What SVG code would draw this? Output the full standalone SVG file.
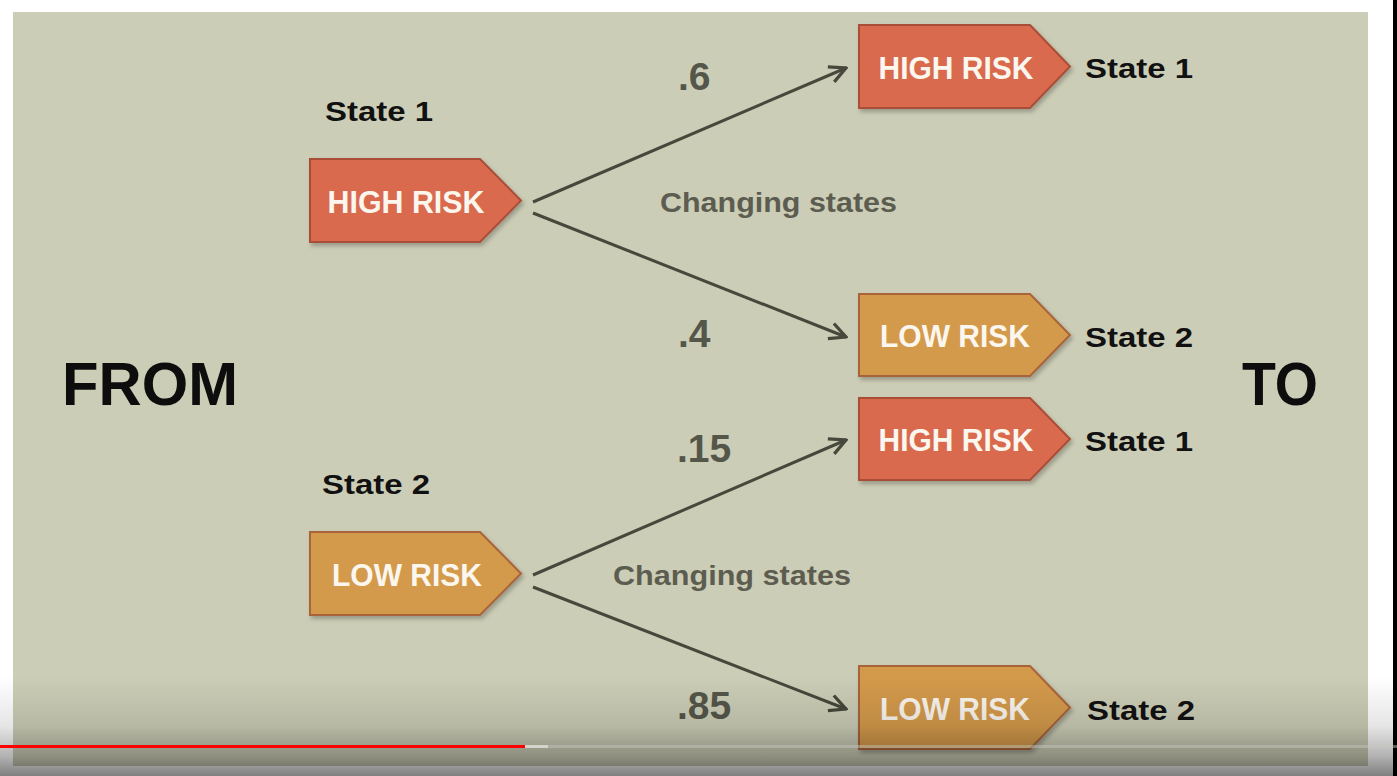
<svg xmlns="http://www.w3.org/2000/svg" width="1397" height="776" viewBox="0 0 1397 776">
<defs>
<style>
.high{fill:#d96a4e;stroke:#a94e37;stroke-width:2}
.low{fill:#d49a4b;stroke:#a9643a;stroke-width:2}
.box-t{font-family:"Liberation Sans",Arial,sans-serif;font-weight:bold;font-size:31px;fill:#fbf6ee;text-anchor:middle}
.state{font-family:"Liberation Sans",Arial,sans-serif;font-weight:bold;font-size:27px;fill:#111}
.prob{font-family:"Liberation Sans",Arial,sans-serif;font-weight:bold;font-size:39px;fill:#55564a}
.chg{font-family:"Liberation Sans",Arial,sans-serif;font-weight:bold;font-size:28px;fill:#5c5d50}
.big{font-family:"Liberation Sans",Arial,sans-serif;font-weight:bold;font-size:62px;fill:#0d0d0d}
.conn{stroke:#46483b;stroke-width:3;fill:none;marker-end:url(#arr)}
</style>
<marker id="arr" viewBox="0 0 12 12" refX="11" refY="6" markerWidth="6.5" markerHeight="6.5" orient="auto" markerUnits="strokeWidth">
<path d="M1,1 L11,6 L1,11" fill="none" stroke="#46483b" stroke-width="2"/>
</marker>
<filter id="sh" x="-10%" y="-10%" width="130%" height="140%">
<feDropShadow dx="2" dy="3" stdDeviation="2" flood-color="#000" flood-opacity="0.25"/>
</filter>
<linearGradient id="fade" x1="0" y1="0" x2="0" y2="1">
<stop offset="0" stop-color="#000" stop-opacity="0"/>
<stop offset="0.5" stop-color="#000" stop-opacity="0.1"/>
<stop offset="0.8" stop-color="#000" stop-opacity="0.3"/>
<stop offset="1" stop-color="#000" stop-opacity="0.5"/>
</linearGradient>
</defs>
<rect x="0" y="0" width="1397" height="776" fill="#ffffff"/>
<rect x="13" y="12" width="1355" height="754" fill="#cccdb6"/>
<rect x="1393" y="0" width="4" height="776" fill="#000"/>

<g id="connectors">
<line class="conn" x1="533" y1="202" x2="846" y2="68"/>
<line class="conn" x1="533" y1="213" x2="846" y2="337"/>
<line class="conn" x1="533" y1="575" x2="846" y2="440"/>
<line class="conn" x1="533" y1="587" x2="846" y2="709"/>
</g>

<g id="labels">
<text class="big" x="62" y="405" textLength="176" lengthAdjust="spacingAndGlyphs">FROM</text>
<text class="big" x="1242" y="405" textLength="76" lengthAdjust="spacingAndGlyphs">TO</text>
<text class="prob" x="678" y="90">.6</text>
<text class="prob" x="678" y="347">.4</text>
<text class="prob" x="677" y="462">.15</text>
<text class="prob" x="677" y="719">.85</text>
<text class="chg" x="660" y="212" textLength="237" lengthAdjust="spacingAndGlyphs">Changing states</text>
<text class="chg" x="613" y="585" textLength="238" lengthAdjust="spacingAndGlyphs">Changing states</text>
</g>

<g id="from-high">
<text class="state" x="325" y="121" textLength="108" lengthAdjust="spacingAndGlyphs">State 1</text>
<path class="high" filter="url(#sh)" d="M310,159 H480 L521,200.5 L480,242 H310 Z"/>
<text class="box-t" x="406" y="213" textLength="157" lengthAdjust="spacingAndGlyphs">HIGH RISK</text>
</g>

<g id="from-low">
<text class="state" x="322" y="494" textLength="108" lengthAdjust="spacingAndGlyphs">State 2</text>
<path class="low" filter="url(#sh)" d="M310,532 H480 L521,573.5 L480,615 H310 Z"/>
<text class="box-t" x="407" y="586" textLength="150" lengthAdjust="spacingAndGlyphs">LOW RISK</text>
</g>

<g id="to-high-1">
<path class="high" filter="url(#sh)" d="M859,25 H1030 L1070,66.5 L1030,108 H859 Z"/>
<text class="box-t" x="956" y="79" textLength="155" lengthAdjust="spacingAndGlyphs">HIGH RISK</text>
<text class="state" x="1085" y="78" textLength="108" lengthAdjust="spacingAndGlyphs">State 1</text>
</g>

<g id="to-low-1">
<path class="low" filter="url(#sh)" d="M859,294 H1030 L1070,335 L1030,376 H859 Z"/>
<text class="box-t" x="955" y="347" textLength="150" lengthAdjust="spacingAndGlyphs">LOW RISK</text>
<text class="state" x="1085" y="347" textLength="108" lengthAdjust="spacingAndGlyphs">State 2</text>
</g>

<g id="to-high-2">
<path class="high" filter="url(#sh)" d="M859,398 H1030 L1070,439 L1030,480 H859 Z"/>
<text class="box-t" x="956" y="451" textLength="155" lengthAdjust="spacingAndGlyphs">HIGH RISK</text>
<text class="state" x="1085" y="451" textLength="108" lengthAdjust="spacingAndGlyphs">State 1</text>
</g>

<g id="to-low-2">
<path class="low" filter="url(#sh)" d="M859,666 H1030 L1070,707.5 L1030,749 H859 Z"/>
<text class="box-t" x="955" y="720" textLength="150" lengthAdjust="spacingAndGlyphs">LOW RISK</text>
<text class="state" x="1087" y="720" textLength="108" lengthAdjust="spacingAndGlyphs">State 2</text>
</g>

<g id="player">
<rect x="0" y="676" width="1397" height="100" fill="url(#fade)"/>
<rect x="0" y="745" width="1397" height="3" fill="#c8c8c0" fill-opacity="0.45"/>
<rect x="525" y="745" width="23" height="3" fill="#d4d4cc"/>
<rect x="0" y="745" width="525" height="3" fill="#ff0000"/>
</g>
</svg>
